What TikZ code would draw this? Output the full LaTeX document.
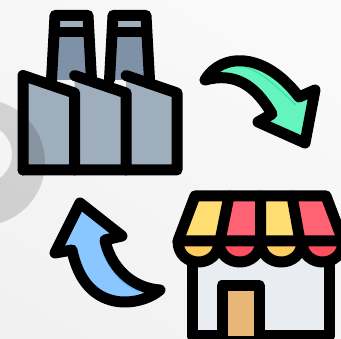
\documentclass[tikz,border=0pt]{standalone}
\usepackage{amsmath,amssymb}
\usetikzlibrary{calc}
\definecolor{bgpale}{HTML}{F1F1F1}
\definecolor{bgwhite}{HTML}{FAFAFA}
\definecolor{steel}{HTML}{9FAEBC}
\definecolor{steeldark}{HTML}{7E91A6}
\definecolor{awnyellow}{HTML}{FFDD70}
\definecolor{awnred}{HTML}{FF6272}
\definecolor{lipyellow}{HTML}{FFCC60}
\definecolor{lipred}{HTML}{FF4F5F}
\definecolor{wallpale}{HTML}{E9EDF1}
\definecolor{doortan}{HTML}{E8B778}
\definecolor{arrowgreen}{HTML}{64F4BE}
\definecolor{edgegreen}{HTML}{3CE2A8}
\definecolor{arrowblue}{HTML}{8AC6FF}
\definecolor{edgeblue}{HTML}{6DB4F8}
\tikzset{
  outline/.style={draw=black,line width=11pt,line join=round,line cap=round},
  ring/.style={fill=black,fill opacity=0.14,even odd rule}
}
\begin{document}
\begin{tikzpicture}[x=1pt,y=-1pt]
  \path[use as bounding box,clip] (0,0) rectangle (341,339);
  \shade[bottom color=bgpale,top color=bgwhite,shading angle=-30] (-40,-40) rectangle (381,379);
  % factory
  \foreach \c in {0,58} {
    \fill[steeldark] ({51.5+\c},80) -- ({55+\c},15) -- ({88+\c},15) -- ({91+\c},80) -- cycle;
    \fill[steel] ({58+\c},20) rectangle ({84+\c},30);
  }
  \foreach \c in {0,51.5,103} {
    \fill[steel] ({23+\c},75.5) -- ({74+\c},93) -- ({74+\c},170) -- ({23+\c},170) -- cycle;
  }
  \path[ring] (-18,162.5) circle (63) (-18,154) circle (30);
  \foreach \c in {0,58} {
    \draw[outline] ({51.5+\c},80) -- ({55+\c},15.5) -- ({88+\c},15.5) -- ({91.5+\c},80);
    \draw[outline,line width=10pt,line cap=butt] ({54.5+\c},32.5) -- ({88.5+\c},32.5);
  }
  \draw[outline] (23,170) -- (23,75.5) -- (74.5,93) -- (74.5,170);
  \draw[outline] (74.5,75.5) -- (126,93) -- (126,170);
  \draw[outline] (126,75.5) -- (177,93) -- (177,170) -- (23,170);
  % green arrow
  \def\greenpath{(205,80) .. controls (222,52) and (265,52) .. (299,97) -- (315,90) -- (305,143) -- (258,122) -- (272,114) .. controls (255,85) and (235,72) .. (205,80) -- cycle}
  \fill[arrowgreen] \greenpath;
  \draw[edgegreen,line width=1.2pt] (240,66) .. controls (262,70) and (280,90) .. (296,105);
  \draw[outline] \greenpath;
  % blue arrow
  \def\bluepath{(80,203) -- (122,236) -- (105,240) .. controls (110,265) and (130,288) .. (160,290) .. controls (140,307) and (85,315) .. (72,250) -- (55,253) -- cycle}
  \fill[arrowblue] \bluepath;
  \draw[edgeblue,line width=1.2pt] (100,242) .. controls (105,265) and (120,284) .. (138,291);
  \draw[outline] \bluepath;
  % shop
  \filldraw[outline,fill=wallpale] (192,245) -- (192,336) -- (329,336) -- (329,245);
  \filldraw[outline,fill=doortan] (222,336) -- (222,285.5) -- (259,285.5) -- (259,336);
  \fill[awnyellow] (195,196) -- (229,196) -- (220,241) -- (178,241) -- cycle;
  \fill[awnred] (229,196) -- (260.5,196) -- (260.5,241) -- (220,241) -- cycle;
  \fill[awnyellow] (260.5,196) -- (292,196) -- (300,241) -- (260.5,241) -- cycle;
  \fill[awnred] (292,196) -- (326,196) -- (343,241) -- (300,241) -- cycle;
  \def\lipy{269}
  \filldraw[outline,fill=lipyellow] (178,241) .. controls (178,\lipy) and (219,\lipy) .. (219,241);
  \filldraw[outline,fill=lipred] (219,241) .. controls (219,\lipy) and (260.5,\lipy) .. (260.5,241);
  \filldraw[outline,fill=lipyellow] (260.5,241) .. controls (260.5,\lipy) and (302,\lipy) .. (302,241);
  \filldraw[outline,fill=lipred] (302,241) .. controls (302,\lipy) and (343,\lipy) .. (343,241);
  \draw[outline] (178,241) -- (195,196) -- (326,196) -- (343,241) -- cycle;
  \draw[outline] (229,196) -- (220,241) (260.5,196) -- (260.5,241) (292,196) -- (300,241);
\end{tikzpicture}
\end{document}
